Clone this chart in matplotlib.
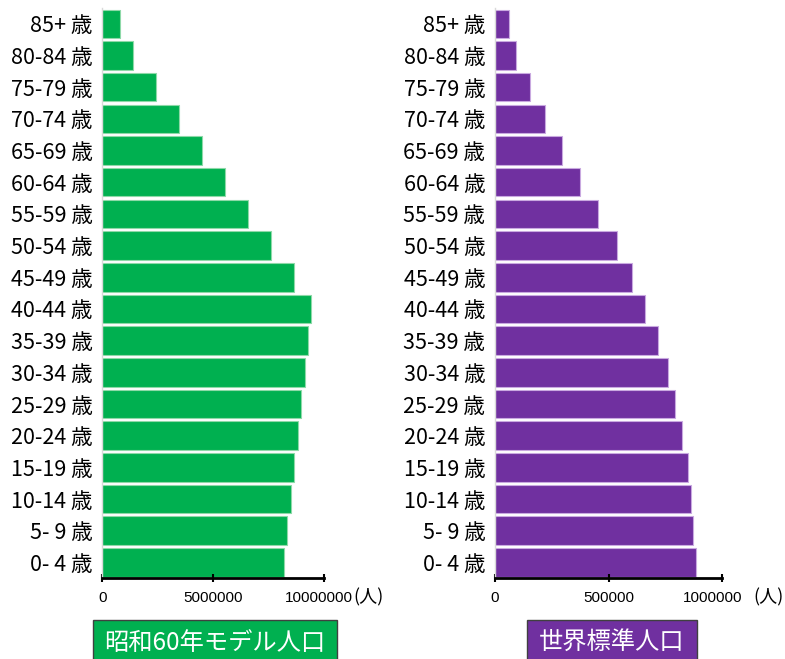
import numpy as np
import matplotlib
matplotlib.use('Agg')
import matplotlib.pyplot as plt
import matplotlib.transforms as mtrans
from matplotlib.patches import Rectangle

plt.rcParams['font.family'] = ['Noto Sans CJK JP', 'DejaVu Sans']

# age groups, bottom to top
ages = ["0- 4 歳", "5- 9 歳", "10-14 歳", "15-19 歳", "20-24 歳", "25-29 歳",
        "30-34 歳", "35-39 歳", "40-44 歳", "45-49 歳", "50-54 歳", "55-59 歳",
        "60-64 歳", "65-69 歳", "70-74 歳", "75-79 歳", "80-84 歳", "85+ 歳"]

# 昭和60年モデル人口
showa60 = [8180000, 8338000, 8497000, 8655000, 8814000, 8972000,
           9130000, 9289000, 9400000, 8651000, 7616000, 6581000,
           5546000, 4511000, 3476000, 2441000, 1406000, 784000]

# 世界標準人口
world = [886000, 869000, 860000, 847000, 822000, 793000,
         761000, 715000, 659000, 604000, 537000, 455000,
         372000, 296000, 221000, 152000, 91000, 63500]

left_ticks = [0, 5000000, 10000000]
right_ticks = [0, 500000, 1000000]

green = '#00B050'
purple = '#7030A0'

fig = plt.figure(figsize=(7.85, 6.59), dpi=100)
ax1 = fig.add_axes([0.1303, 0.1225, 0.2828, 0.8654])
ax2 = fig.add_axes([0.6306, 0.1225, 0.2896, 0.8654])

tickfont = ['Liberation Sans Narrow', 'Liberation Sans', 'DejaVu Sans']

def draw(ax, vals, ticks, fc, ec, unit_x, last_shift):
    y = np.arange(len(ages))
    ax.barh(y, vals, height=0.9, color=fc, edgecolor=ec, linewidth=0.8)
    ax.set_ylim(-0.5, len(ages) - 0.5)
    ax.set_xlim(ticks[0], ticks[-1])
    ax.set_yticks(y)
    ax.set_yticklabels(ages, fontsize=15.5, color='black')
    ax.set_xticks(ticks)
    ax.set_xticklabels([str(t) for t in ticks], fontsize=11, family=tickfont)
    ax.tick_params(axis='y', length=0, pad=7)
    ax.tick_params(axis='x', direction='inout', length=6, width=1.5, pad=6)
    # last tick label sits a little left of its tick, as in the original
    lbl = ax.get_xticklabels()[-1]
    lbl.set_transform(lbl.get_transform() +
                      mtrans.ScaledTranslation(last_shift, 0, fig.dpi_scale_trans))
    for s in ['top', 'right']:
        ax.spines[s].set_visible(False)
    ax.spines['left'].set_color('#D9D9D9')
    ax.spines['left'].set_linewidth(1.0)
    ax.spines['bottom'].set_linewidth(2.0)
    ax.spines['bottom'].set_color('black')
    ax.text(unit_x, -0.033, '(人)', transform=ax.transAxes, fontsize=13,
            ha='left', va='center')

draw(ax1, showa60, left_ticks, green, '#8ED9A8', 1.132, -0.05)
draw(ax2, world, right_ticks, purple, '#C9A9E0', 1.137, -0.10)

# title boxes
fig.patches.append(Rectangle((0.1189, -0.05), 0.3101, 0.1092, transform=fig.transFigure,
                             facecolor=green, edgecolor='#404040', linewidth=1.0))
fig.text(0.2739, 0.0243, '昭和60年モデル人口', color='white', fontsize=17.5,
         ha='center', va='center')
fig.patches.append(Rectangle((0.6709, -0.05), 0.2166, 0.1092, transform=fig.transFigure,
                             facecolor=purple, edgecolor='#404040', linewidth=1.0))
fig.text(0.7792, 0.0243, '世界標準人口', color='white', fontsize=17.5,
         ha='center', va='center')

fig.savefig('out.png', dpi=100)
